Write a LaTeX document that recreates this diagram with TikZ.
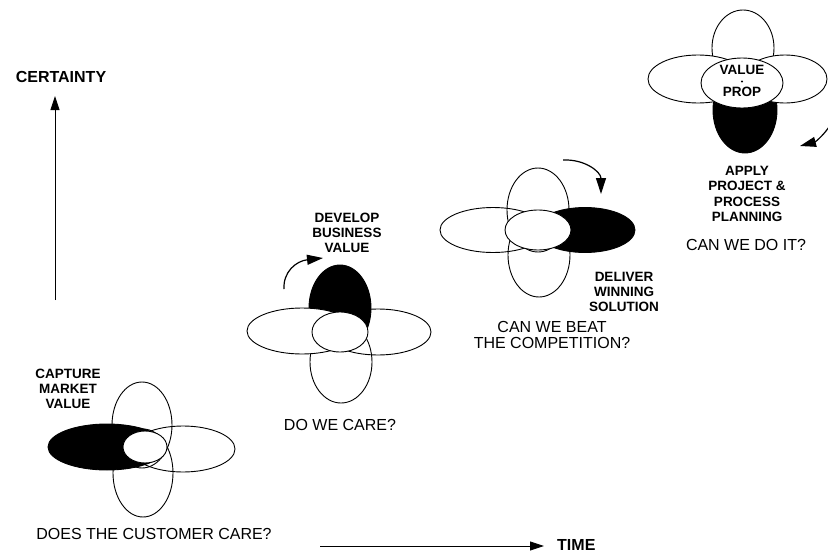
\documentclass[tikz,border=0pt]{standalone}
\usepackage{fontspec}
\setmainfont{Liberation Sans}
\usetikzlibrary{shapes.geometric,arrows.meta}
\begin{document}
\begin{tikzpicture}[x=1pt,y=-1pt,
  petal/.style n args={2}{ellipse, draw, line width=0.9pt, inner sep=0pt, minimum width=#1pt, minimum height=#2pt},
  blk/.style={fill=black},
  wht/.style={fill=white},
  lab/.style={align=center, font=\fontsize{13.5}{15.2}\selectfont\bfseries, inner sep=0pt},
  qst/.style={align=center, font=\fontsize{16}{16.5}\selectfont, inner sep=0pt},
  axlab/.style={font=\fontsize{16}{18}\selectfont\bfseries, inner sep=0pt},
  axarr/.style={line width=0.9pt, -{Triangle[length=14pt,width=9pt]}},
  turn/.style={line width=1.2pt, -{Triangle[length=16pt,width=10pt]}}]
\useasboundingbox (0,0) rectangle (828,554);

% axes
\coordinate (ya) at (55,300);
\coordinate (yb) at (55,96);
\draw[axarr] (ya) -- (yb);
\node[axlab] (cert) at (61,77) {CERTAINTY};
\coordinate (xa) at (320,546);
\coordinate (xb) at (544,546);
\draw[axarr] (xa) -- (xb);
\node[axlab, anchor=west] (time) at (557,545) {TIME};

% cluster 1
\node[petal={60}{86}] (c1t) at (142,425) {};
\node[petal={60}{88}] (c1b) at (143,473) {};
\node[petal={104}{46}] (c1r) at (183,449) {};
\node[petal={118}{46}, blk] (c1l) at (107,447) {};
\node[petal={44}{32}, wht] (c1c) at (145,447) {};
\node[lab] (c1lab) at (68,389) {CAPTURE\\MARKET\\VALUE};
\node[qst] (c1q) at (154,534) {DOES THE CUSTOMER CARE?};

% cluster 2
\node[petal={106}{46}] (c2r) at (378,332) {};
\node[petal={62}{82}] (c2b) at (341,362) {};
\node[petal={62}{86}, blk] (c2t) at (340,308) {};
\node[petal={110}{46}, wht] (c2l) at (302,331) {};
\node[petal={56}{40}, wht] (c2c) at (340,332) {};
\node[lab] (c2lab) at (347,233) {DEVELOP\\BUSINESS\\VALUE};
\node[qst] (c2q) at (340,425) {DO WE CARE?};
\coordinate (a2s) at (284,289);
\coordinate (a2e) at (323,258);
\draw[turn] (a2s) .. controls (283,272) and (296,261) .. (a2e);

% cluster 3
\node[petal={62}{84}] (c3t) at (538,210) {};
\node[petal={62}{84}] (c3b) at (539,255) {};
\node[petal={106}{45}] (c3l) at (493,230) {};
\node[petal={100}{45}, blk] (c3r) at (585,230) {};
\node[petal={66}{40}, wht] (c3c) at (538,230) {};
\node[lab] (c3lab) at (624,292) {DELIVER\\WINNING\\SOLUTION};
\node[qst] (c3q) at (552,335) {CAN WE BEAT\\THE COMPETITION?};
\coordinate (a3s) at (563,160);
\coordinate (a3e) at (601,194);
\draw[turn] (a3s) .. controls (585,159) and (601,172) .. (a3e);

% cluster 4
\node[petal={62}{76}] (c4t) at (743,48) {};
\node[petal={64}{86}, blk] (c4b) at (745,110) {};
\node[petal={100}{48}, wht] (c4l) at (698,79) {};
\node[petal={84}{48}, wht] (c4r) at (785,79) {};
\node[petal={82}{50}, wht] (c4c) at (742,83) {};
\node[lab] (c4txt) at (742,81) {VALUE\\[6pt]PROP};
\node[circle, fill=black, inner sep=0pt, minimum size=2.4pt] (c4dot) at (742,81.5) {};
\node[lab] (c4lab) at (747,194) {APPLY\\PROJECT \&\\PROCESS\\PLANNING};
\node[qst] (c4q) at (746,245) {CAN WE DO IT?};
\coordinate (a4s) at (829,127);
\coordinate (a4e) at (800,146);
\draw[turn] (a4s) .. controls (822,137) and (815,142) .. (a4e);
\end{tikzpicture}
\end{document}
